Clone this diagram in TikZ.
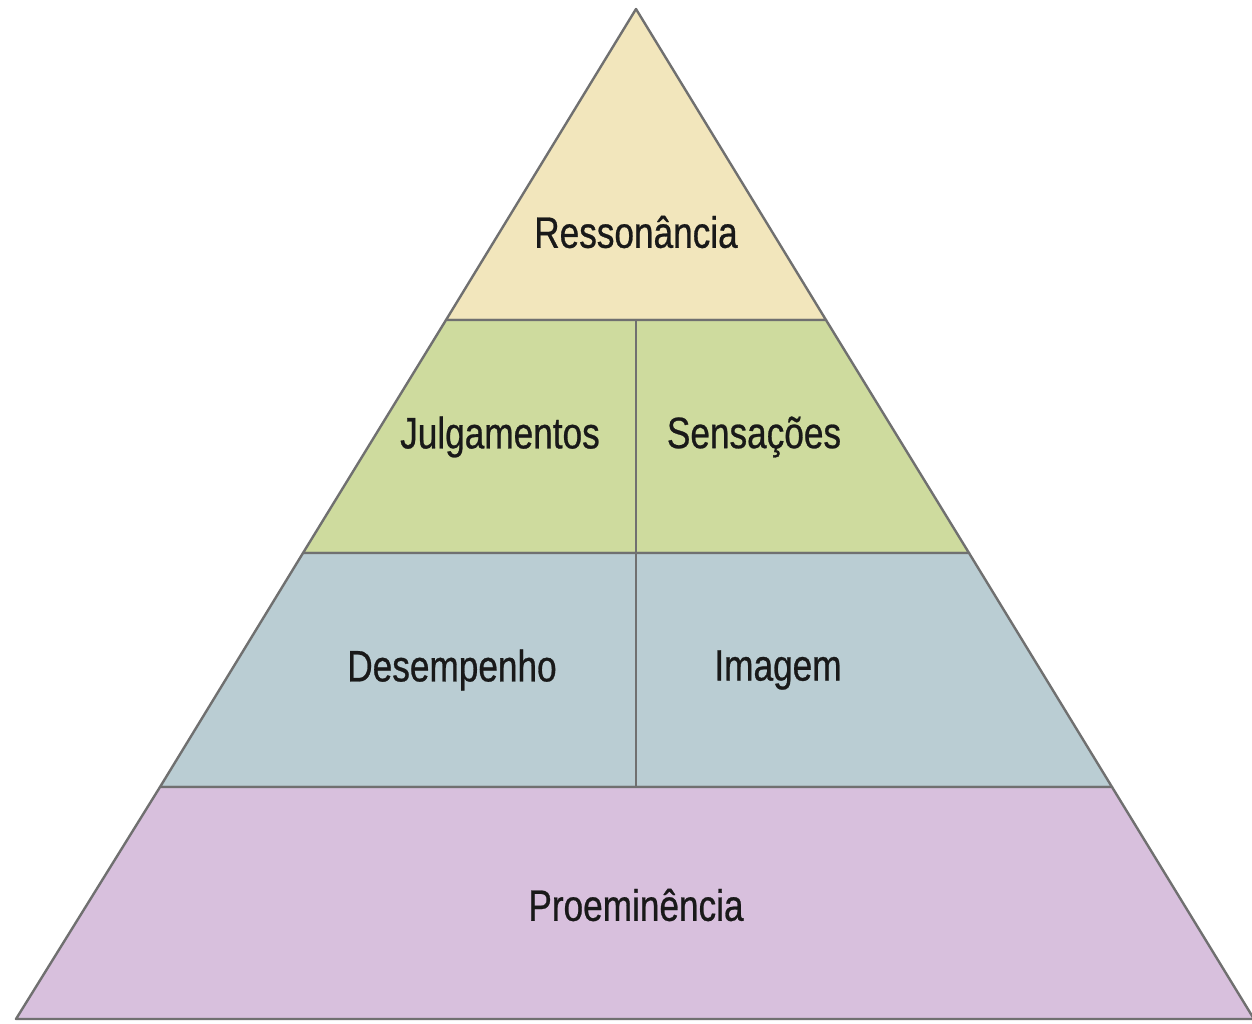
\documentclass[tikz,border=0pt]{standalone}
\usepackage{fontspec}
\setmainfont{Liberation Sans}[FakeStretch=0.8, FakeBold=0.6]
\definecolor{topbeige}{HTML}{F2E6BC}
\definecolor{midgreen}{HTML}{CEDB9E}
\definecolor{lowblue}{HTML}{BACDD3}
\definecolor{basepurple}{HTML}{D8C0DD}
\definecolor{edgegray}{HTML}{707070}
\tikzset{
    layer/.style={draw=edgegray, line width=2.4pt, line join=round},
    label/.style={font=\fontsize{44}{50}\selectfont, text=black!90}
}
\begin{document}
\begin{tikzpicture}[x=1pt, y=-1pt]
    \useasboundingbox (0, 0) rectangle (1252, 1023);
    % corners of the pyramid, one pair per level
    \coordinate (apex) at (636, 9);
    \coordinate (l1) at (446, 320);  \coordinate (r1) at (826, 320);
    \coordinate (l2) at (303, 553);  \coordinate (r2) at (969, 553);
    \coordinate (l3) at (160, 787);  \coordinate (r3) at (1112, 787);
    \coordinate (l4) at (16, 1019);  \coordinate (r4) at (1254, 1019);
    \coordinate (m1) at (636, 320);  \coordinate (m3) at (636, 787);

    % levels
    \filldraw[layer, fill=topbeige] (apex) -- (r1) -- (l1) -- cycle;
    \filldraw[layer, fill=midgreen] (l1) -- (r1) -- (r2) -- (l2) -- cycle;
    \filldraw[layer, fill=lowblue] (l2) -- (r2) -- (r3) -- (l3) -- cycle;
    \filldraw[layer, fill=basepurple] (l3) -- (r3) -- (r4) -- (l4) -- cycle;
    \draw[layer] (m1) -- (m3);

    \node[label] (resso) at (636, 232) {Ressonância};
    \node[label] (julga) at (500, 437) {Julgamentos};
    \node[label] (sensa) at (754, 437) {Sensações};
    \node[label] (desem) at (452, 670) {Desempenho};
    \node[label] (image) at (778, 670) {Imagem};
    \node[label] (proem) at (636, 905) {Proeminência};
\end{tikzpicture}
\end{document}
